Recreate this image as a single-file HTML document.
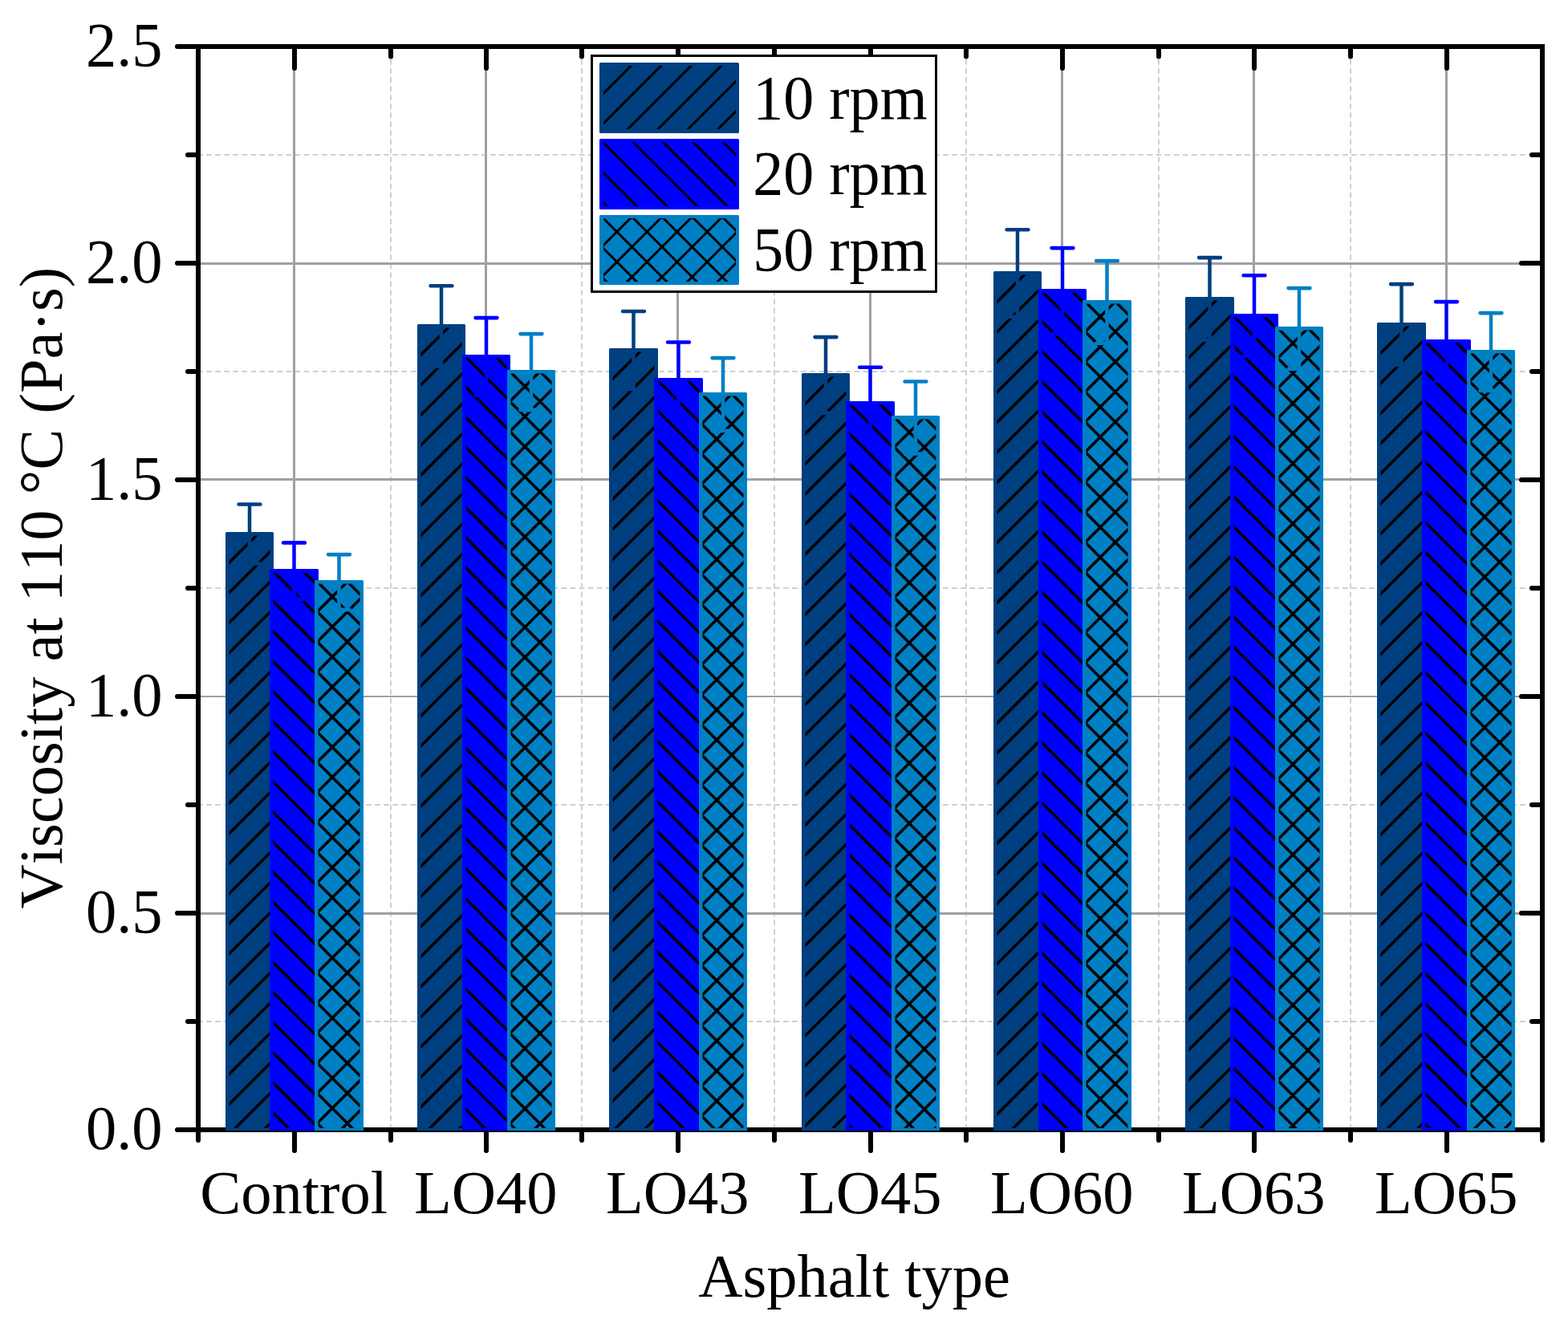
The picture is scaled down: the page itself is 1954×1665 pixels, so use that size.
<!DOCTYPE html>
<html lang="en"><head><meta charset="utf-8"><title>Viscosity at 110 °C by asphalt type</title>
<style>html,body{margin:0;padding:0;background:#fff}body{width:1954px;height:1665px;overflow:hidden}svg{display:block}text{font-family:"Liberation Serif",serif;font-size:76.5px;fill:#000;font-kerning:none;font-variant-ligatures:none}</style></head><body>
<svg width="1954" height="1665" viewBox="0 0 1954 1665">
<rect width="1954" height="1665" fill="#fff"/>
<g stroke="#D0D0D0" stroke-width="2" stroke-dasharray="6.8 4.26" fill="none">
<path d="M246.0 1273 H1922"/>
<path d="M246.0 1003 H1922"/>
<path d="M246.0 733 H1922"/>
<path d="M246.0 463 H1922"/>
<path d="M246.0 193 H1922"/>
<path d="M487 62.9 V1408"/>
<path d="M725 62.9 V1408"/>
<path d="M965 62.9 V1408"/>
<path d="M1204 62.9 V1408"/>
<path d="M1444 62.9 V1408"/>
<path d="M1683 62.9 V1408"/>
</g>
<g stroke="#A0A0A0" stroke-width="3" fill="none">
<path d="M247 328.5 H1922" stroke-width="3"/>
<path d="M247 597.5 H1922" stroke-width="3"/>
<path d="M247 868 H1922" stroke-width="2"/>
<path d="M247 1138.5 H1922" stroke-width="3"/>
<path d="M366.5 58 V1408"/>
<path d="M605.5 58 V1408"/>
<path d="M844.5 58 V1408"/>
<path d="M1084.5 58 V1408"/>
<path d="M1323.5 58 V1408"/>
<path d="M1562.5 58 V1408"/>
<path d="M1802.5 58 V1408"/>
</g>
<g stroke="#000" stroke-width="6" fill="none" stroke-linecap="round">
<rect x="247" y="58" width="1675" height="1350" stroke-linejoin="miter" stroke-linecap="butt"/>
<path d="M367 1408 V1434M367 58 V85M606 1408 V1434M606 58 V85M845 1408 V1434M845 58 V85M1085 1408 V1434M1085 58 V85M1324 1408 V1434M1324 58 V85M1563 1408 V1434M1563 58 V85M1803 1408 V1434M1803 58 V85M487 1408 V1421M487 58 V70.5M725 1408 V1421M725 58 V70.5M965 1408 V1421M965 58 V70.5M1204 1408 V1421M1204 58 V70.5M1444 1408 V1421M1444 58 V70.5M1683 1408 V1421M1683 58 V70.5M247 1408 V1421M247 58 V70.5M1922 1408 V1421M1922 58 V70.5M247 1408 H221M1922 1408 H1896M247 1138 H221M1922 1138 H1896M247 868 H221M1922 868 H1896M247 598 H221M1922 598 H1896M247 328 H221M1922 328 H1896M247 58 H221M1922 58 H1896M247 1273 H234M1922 1273 H1909M247 1003 H234M1922 1003 H1909M247 733 H234M1922 733 H1909M247 463 H234M1922 463 H1909M247 193 H234M1922 193 H1909"/>
</g>
<path d="M281 1409.0 V664.5 Q281 663 282.5 663 H339.5 Q341 663 341 664.5 V1409.0 Z" fill="#003F80"/>
<svg x="285.5" y="667.5" width="51.0" height="738.5" viewBox="0 0 51.0 738.5">
<path d="M6.30 -10.00 L-752.20 748.50M43.80 -10.00 L-714.70 748.50M81.30 -10.00 L-677.20 748.50M118.80 -10.00 L-639.70 748.50M156.30 -10.00 L-602.20 748.50M193.80 -10.00 L-564.70 748.50M231.30 -10.00 L-527.20 748.50M268.80 -10.00 L-489.70 748.50M306.30 -10.00 L-452.20 748.50M343.80 -10.00 L-414.70 748.50M381.30 -10.00 L-377.20 748.50M418.80 -10.00 L-339.70 748.50M456.30 -10.00 L-302.20 748.50M493.80 -10.00 L-264.70 748.50M531.30 -10.00 L-227.20 748.50M568.80 -10.00 L-189.70 748.50M606.30 -10.00 L-152.20 748.50M643.80 -10.00 L-114.70 748.50M681.30 -10.00 L-77.20 748.50M718.80 -10.00 L-39.70 748.50M756.30 -10.00 L-2.20 748.50M793.80 -10.00 L35.30 748.50" stroke="#000" stroke-width="3.5" fill="none"/>
</svg>
<path d="M311.0 628.5 V702.5" stroke="#003F80" stroke-width="4.5" fill="none"/>
<path d="M297.6 628.5 H324.4 M297.6 702.5 H324.4" stroke="#003F80" stroke-width="4.6" stroke-linecap="round" fill="none"/>
<path d="M336 1409.0 V710.5 Q336 709 337.5 709 H395.5 Q397 709 397 710.5 V1409.0 Z" fill="#0000FF"/>
<svg x="340.5" y="713.5" width="52.0" height="692.5" viewBox="0 0 52.0 692.5">
<path d="M-683.50 -10.00 L29.00 702.50M-646.00 -10.00 L66.50 702.50M-608.50 -10.00 L104.00 702.50M-571.00 -10.00 L141.50 702.50M-533.50 -10.00 L179.00 702.50M-496.00 -10.00 L216.50 702.50M-458.50 -10.00 L254.00 702.50M-421.00 -10.00 L291.50 702.50M-383.50 -10.00 L329.00 702.50M-346.00 -10.00 L366.50 702.50M-308.50 -10.00 L404.00 702.50M-271.00 -10.00 L441.50 702.50M-233.50 -10.00 L479.00 702.50M-196.00 -10.00 L516.50 702.50M-158.50 -10.00 L554.00 702.50M-121.00 -10.00 L591.50 702.50M-83.50 -10.00 L629.00 702.50M-46.00 -10.00 L666.50 702.50M-8.50 -10.00 L704.00 702.50M29.00 -10.00 L741.50 702.50" stroke="#000" stroke-width="3.5" fill="none"/>
</svg>
<path d="M366.5 676.4 V746.6" stroke="#0000FF" stroke-width="4.5" fill="none"/>
<path d="M353.1 676.4 H379.9 M353.1 746.6 H379.9" stroke="#0000FF" stroke-width="4.6" stroke-linecap="round" fill="none"/>
<path d="M392 1409.0 V724.5 Q392 723 393.5 723 H451.5 Q453 723 453 724.5 V1409.0 Z" fill="#0080C4"/>
<svg x="396.5" y="727.5" width="52.0" height="678.5" viewBox="0 0 52.0 678.5">
<path d="M6.30 -10.00 L-692.20 688.50M43.80 -10.00 L-654.70 688.50M81.30 -10.00 L-617.20 688.50M118.80 -10.00 L-579.70 688.50M156.30 -10.00 L-542.20 688.50M193.80 -10.00 L-504.70 688.50M231.30 -10.00 L-467.20 688.50M268.80 -10.00 L-429.70 688.50M306.30 -10.00 L-392.20 688.50M343.80 -10.00 L-354.70 688.50M381.30 -10.00 L-317.20 688.50M418.80 -10.00 L-279.70 688.50M456.30 -10.00 L-242.20 688.50M493.80 -10.00 L-204.70 688.50M531.30 -10.00 L-167.20 688.50M568.80 -10.00 L-129.70 688.50M606.30 -10.00 L-92.20 688.50M643.80 -10.00 L-54.70 688.50M681.30 -10.00 L-17.20 688.50M718.80 -10.00 L20.30 688.50M-683.50 -10.00 L15.00 688.50M-646.00 -10.00 L52.50 688.50M-608.50 -10.00 L90.00 688.50M-571.00 -10.00 L127.50 688.50M-533.50 -10.00 L165.00 688.50M-496.00 -10.00 L202.50 688.50M-458.50 -10.00 L240.00 688.50M-421.00 -10.00 L277.50 688.50M-383.50 -10.00 L315.00 688.50M-346.00 -10.00 L352.50 688.50M-308.50 -10.00 L390.00 688.50M-271.00 -10.00 L427.50 688.50M-233.50 -10.00 L465.00 688.50M-196.00 -10.00 L502.50 688.50M-158.50 -10.00 L540.00 688.50M-121.00 -10.00 L577.50 688.50M-83.50 -10.00 L615.00 688.50M-46.00 -10.00 L652.50 688.50M-8.50 -10.00 L690.00 688.50M29.00 -10.00 L727.50 688.50" stroke="#000" stroke-width="3.5" fill="none"/>
</svg>
<path d="M422.5 691.1 V759.9" stroke="#0080C4" stroke-width="4.5" fill="none"/>
<path d="M409.1 691.1 H435.9 M409.1 759.9 H435.9" stroke="#0080C4" stroke-width="4.6" stroke-linecap="round" fill="none"/>
<path d="M520 1409.0 V405.5 Q520 404 521.5 404 H578.5 Q580 404 580 405.5 V1409.0 Z" fill="#003F80"/>
<svg x="524.5" y="408.5" width="51.0" height="997.5" viewBox="0 0 51.0 997.5">
<path d="M6.30 -10.00 L-1011.20 1007.50M43.80 -10.00 L-973.70 1007.50M81.30 -10.00 L-936.20 1007.50M118.80 -10.00 L-898.70 1007.50M156.30 -10.00 L-861.20 1007.50M193.80 -10.00 L-823.70 1007.50M231.30 -10.00 L-786.20 1007.50M268.80 -10.00 L-748.70 1007.50M306.30 -10.00 L-711.20 1007.50M343.80 -10.00 L-673.70 1007.50M381.30 -10.00 L-636.20 1007.50M418.80 -10.00 L-598.70 1007.50M456.30 -10.00 L-561.20 1007.50M493.80 -10.00 L-523.70 1007.50M531.30 -10.00 L-486.20 1007.50M568.80 -10.00 L-448.70 1007.50M606.30 -10.00 L-411.20 1007.50M643.80 -10.00 L-373.70 1007.50M681.30 -10.00 L-336.20 1007.50M718.80 -10.00 L-298.70 1007.50M756.30 -10.00 L-261.20 1007.50M793.80 -10.00 L-223.70 1007.50M831.30 -10.00 L-186.20 1007.50M868.80 -10.00 L-148.70 1007.50M906.30 -10.00 L-111.20 1007.50M943.80 -10.00 L-73.70 1007.50M981.30 -10.00 L-36.20 1007.50M1018.80 -10.00 L1.30 1007.50M1056.30 -10.00 L38.80 1007.50" stroke="#000" stroke-width="3.5" fill="none"/>
</svg>
<path d="M550.0 356.2 V456.8" stroke="#003F80" stroke-width="4.5" fill="none"/>
<path d="M536.6 356.2 H563.4 M536.6 456.8 H563.4" stroke="#003F80" stroke-width="4.6" stroke-linecap="round" fill="none"/>
<path d="M576 1409.0 V443.5 Q576 442 577.5 442 H634.5 Q636 442 636 443.5 V1409.0 Z" fill="#0000FF"/>
<svg x="580.5" y="446.5" width="51.0" height="959.5" viewBox="0 0 51.0 959.5">
<path d="M-946.00 -10.00 L33.50 969.50M-908.50 -10.00 L71.00 969.50M-871.00 -10.00 L108.50 969.50M-833.50 -10.00 L146.00 969.50M-796.00 -10.00 L183.50 969.50M-758.50 -10.00 L221.00 969.50M-721.00 -10.00 L258.50 969.50M-683.50 -10.00 L296.00 969.50M-646.00 -10.00 L333.50 969.50M-608.50 -10.00 L371.00 969.50M-571.00 -10.00 L408.50 969.50M-533.50 -10.00 L446.00 969.50M-496.00 -10.00 L483.50 969.50M-458.50 -10.00 L521.00 969.50M-421.00 -10.00 L558.50 969.50M-383.50 -10.00 L596.00 969.50M-346.00 -10.00 L633.50 969.50M-308.50 -10.00 L671.00 969.50M-271.00 -10.00 L708.50 969.50M-233.50 -10.00 L746.00 969.50M-196.00 -10.00 L783.50 969.50M-158.50 -10.00 L821.00 969.50M-121.00 -10.00 L858.50 969.50M-83.50 -10.00 L896.00 969.50M-46.00 -10.00 L933.50 969.50M-8.50 -10.00 L971.00 969.50M29.00 -10.00 L1008.50 969.50" stroke="#000" stroke-width="3.5" fill="none"/>
</svg>
<path d="M606.0 396.1 V492.9" stroke="#0000FF" stroke-width="4.5" fill="none"/>
<path d="M592.6 396.1 H619.4 M592.6 492.9 H619.4" stroke="#0000FF" stroke-width="4.6" stroke-linecap="round" fill="none"/>
<path d="M632 1409.0 V462.5 Q632 461 633.5 461 H690.5 Q692 461 692 462.5 V1409.0 Z" fill="#0080C4"/>
<svg x="636.5" y="465.5" width="51.0" height="940.5" viewBox="0 0 51.0 940.5">
<path d="M6.30 -10.00 L-954.20 950.50M43.80 -10.00 L-916.70 950.50M81.30 -10.00 L-879.20 950.50M118.80 -10.00 L-841.70 950.50M156.30 -10.00 L-804.20 950.50M193.80 -10.00 L-766.70 950.50M231.30 -10.00 L-729.20 950.50M268.80 -10.00 L-691.70 950.50M306.30 -10.00 L-654.20 950.50M343.80 -10.00 L-616.70 950.50M381.30 -10.00 L-579.20 950.50M418.80 -10.00 L-541.70 950.50M456.30 -10.00 L-504.20 950.50M493.80 -10.00 L-466.70 950.50M531.30 -10.00 L-429.20 950.50M568.80 -10.00 L-391.70 950.50M606.30 -10.00 L-354.20 950.50M643.80 -10.00 L-316.70 950.50M681.30 -10.00 L-279.20 950.50M718.80 -10.00 L-241.70 950.50M756.30 -10.00 L-204.20 950.50M793.80 -10.00 L-166.70 950.50M831.30 -10.00 L-129.20 950.50M868.80 -10.00 L-91.70 950.50M906.30 -10.00 L-54.20 950.50M943.80 -10.00 L-16.70 950.50M981.30 -10.00 L20.80 950.50M-946.00 -10.00 L14.50 950.50M-908.50 -10.00 L52.00 950.50M-871.00 -10.00 L89.50 950.50M-833.50 -10.00 L127.00 950.50M-796.00 -10.00 L164.50 950.50M-758.50 -10.00 L202.00 950.50M-721.00 -10.00 L239.50 950.50M-683.50 -10.00 L277.00 950.50M-646.00 -10.00 L314.50 950.50M-608.50 -10.00 L352.00 950.50M-571.00 -10.00 L389.50 950.50M-533.50 -10.00 L427.00 950.50M-496.00 -10.00 L464.50 950.50M-458.50 -10.00 L502.00 950.50M-421.00 -10.00 L539.50 950.50M-383.50 -10.00 L577.00 950.50M-346.00 -10.00 L614.50 950.50M-308.50 -10.00 L652.00 950.50M-271.00 -10.00 L689.50 950.50M-233.50 -10.00 L727.00 950.50M-196.00 -10.00 L764.50 950.50M-158.50 -10.00 L802.00 950.50M-121.00 -10.00 L839.50 950.50M-83.50 -10.00 L877.00 950.50M-46.00 -10.00 L914.50 950.50M-8.50 -10.00 L952.00 950.50M29.00 -10.00 L989.50 950.50" stroke="#000" stroke-width="3.5" fill="none"/>
</svg>
<path d="M662.0 416.1 V510.9" stroke="#0080C4" stroke-width="4.5" fill="none"/>
<path d="M648.6 416.1 H675.4 M648.6 510.9 H675.4" stroke="#0080C4" stroke-width="4.6" stroke-linecap="round" fill="none"/>
<path d="M759 1409.0 V435.5 Q759 434 760.5 434 H818.5 Q820 434 820 435.5 V1409.0 Z" fill="#003F80"/>
<svg x="763.5" y="438.5" width="52.0" height="967.5" viewBox="0 0 52.0 967.5">
<path d="M6.30 -10.00 L-981.20 977.50M43.80 -10.00 L-943.70 977.50M81.30 -10.00 L-906.20 977.50M118.80 -10.00 L-868.70 977.50M156.30 -10.00 L-831.20 977.50M193.80 -10.00 L-793.70 977.50M231.30 -10.00 L-756.20 977.50M268.80 -10.00 L-718.70 977.50M306.30 -10.00 L-681.20 977.50M343.80 -10.00 L-643.70 977.50M381.30 -10.00 L-606.20 977.50M418.80 -10.00 L-568.70 977.50M456.30 -10.00 L-531.20 977.50M493.80 -10.00 L-493.70 977.50M531.30 -10.00 L-456.20 977.50M568.80 -10.00 L-418.70 977.50M606.30 -10.00 L-381.20 977.50M643.80 -10.00 L-343.70 977.50M681.30 -10.00 L-306.20 977.50M718.80 -10.00 L-268.70 977.50M756.30 -10.00 L-231.20 977.50M793.80 -10.00 L-193.70 977.50M831.30 -10.00 L-156.20 977.50M868.80 -10.00 L-118.70 977.50M906.30 -10.00 L-81.20 977.50M943.80 -10.00 L-43.70 977.50M981.30 -10.00 L-6.20 977.50M1018.80 -10.00 L31.30 977.50" stroke="#000" stroke-width="3.5" fill="none"/>
</svg>
<path d="M789.5 388.0 V485.0" stroke="#003F80" stroke-width="4.5" fill="none"/>
<path d="M776.1 388.0 H802.9 M776.1 485.0 H802.9" stroke="#003F80" stroke-width="4.6" stroke-linecap="round" fill="none"/>
<path d="M815 1409.0 V472.5 Q815 471 816.5 471 H874.5 Q876 471 876 472.5 V1409.0 Z" fill="#0000FF"/>
<svg x="819.5" y="475.5" width="52.0" height="930.5" viewBox="0 0 52.0 930.5">
<path d="M-946.00 -10.00 L4.50 940.50M-908.50 -10.00 L42.00 940.50M-871.00 -10.00 L79.50 940.50M-833.50 -10.00 L117.00 940.50M-796.00 -10.00 L154.50 940.50M-758.50 -10.00 L192.00 940.50M-721.00 -10.00 L229.50 940.50M-683.50 -10.00 L267.00 940.50M-646.00 -10.00 L304.50 940.50M-608.50 -10.00 L342.00 940.50M-571.00 -10.00 L379.50 940.50M-533.50 -10.00 L417.00 940.50M-496.00 -10.00 L454.50 940.50M-458.50 -10.00 L492.00 940.50M-421.00 -10.00 L529.50 940.50M-383.50 -10.00 L567.00 940.50M-346.00 -10.00 L604.50 940.50M-308.50 -10.00 L642.00 940.50M-271.00 -10.00 L679.50 940.50M-233.50 -10.00 L717.00 940.50M-196.00 -10.00 L754.50 940.50M-158.50 -10.00 L792.00 940.50M-121.00 -10.00 L829.50 940.50M-83.50 -10.00 L867.00 940.50M-46.00 -10.00 L904.50 940.50M-8.50 -10.00 L942.00 940.50M29.00 -10.00 L979.50 940.50" stroke="#000" stroke-width="3.5" fill="none"/>
</svg>
<path d="M845.5 426.5 V520.5" stroke="#0000FF" stroke-width="4.5" fill="none"/>
<path d="M832.1 426.5 H858.9 M832.1 520.5 H858.9" stroke="#0000FF" stroke-width="4.6" stroke-linecap="round" fill="none"/>
<path d="M871 1409.0 V490.5 Q871 489 872.5 489 H929.5 Q931 489 931 490.5 V1409.0 Z" fill="#0080C4"/>
<svg x="875.5" y="493.5" width="51.0" height="912.5" viewBox="0 0 51.0 912.5">
<path d="M6.30 -10.00 L-926.20 922.50M43.80 -10.00 L-888.70 922.50M81.30 -10.00 L-851.20 922.50M118.80 -10.00 L-813.70 922.50M156.30 -10.00 L-776.20 922.50M193.80 -10.00 L-738.70 922.50M231.30 -10.00 L-701.20 922.50M268.80 -10.00 L-663.70 922.50M306.30 -10.00 L-626.20 922.50M343.80 -10.00 L-588.70 922.50M381.30 -10.00 L-551.20 922.50M418.80 -10.00 L-513.70 922.50M456.30 -10.00 L-476.20 922.50M493.80 -10.00 L-438.70 922.50M531.30 -10.00 L-401.20 922.50M568.80 -10.00 L-363.70 922.50M606.30 -10.00 L-326.20 922.50M643.80 -10.00 L-288.70 922.50M681.30 -10.00 L-251.20 922.50M718.80 -10.00 L-213.70 922.50M756.30 -10.00 L-176.20 922.50M793.80 -10.00 L-138.70 922.50M831.30 -10.00 L-101.20 922.50M868.80 -10.00 L-63.70 922.50M906.30 -10.00 L-26.20 922.50M943.80 -10.00 L11.30 922.50M981.30 -10.00 L48.80 922.50M-908.50 -10.00 L24.00 922.50M-871.00 -10.00 L61.50 922.50M-833.50 -10.00 L99.00 922.50M-796.00 -10.00 L136.50 922.50M-758.50 -10.00 L174.00 922.50M-721.00 -10.00 L211.50 922.50M-683.50 -10.00 L249.00 922.50M-646.00 -10.00 L286.50 922.50M-608.50 -10.00 L324.00 922.50M-571.00 -10.00 L361.50 922.50M-533.50 -10.00 L399.00 922.50M-496.00 -10.00 L436.50 922.50M-458.50 -10.00 L474.00 922.50M-421.00 -10.00 L511.50 922.50M-383.50 -10.00 L549.00 922.50M-346.00 -10.00 L586.50 922.50M-308.50 -10.00 L624.00 922.50M-271.00 -10.00 L661.50 922.50M-233.50 -10.00 L699.00 922.50M-196.00 -10.00 L736.50 922.50M-158.50 -10.00 L774.00 922.50M-121.00 -10.00 L811.50 922.50M-83.50 -10.00 L849.00 922.50M-46.00 -10.00 L886.50 922.50M-8.50 -10.00 L924.00 922.50M29.00 -10.00 L961.50 922.50" stroke="#000" stroke-width="3.5" fill="none"/>
</svg>
<path d="M901.0 446.1 V536.9" stroke="#0080C4" stroke-width="4.5" fill="none"/>
<path d="M887.6 446.1 H914.4 M887.6 536.9 H914.4" stroke="#0080C4" stroke-width="4.6" stroke-linecap="round" fill="none"/>
<path d="M999 1409.0 V466.5 Q999 465 1000.5 465 H1057.5 Q1059 465 1059 466.5 V1409.0 Z" fill="#003F80"/>
<svg x="1003.5" y="469.5" width="51.0" height="936.5" viewBox="0 0 51.0 936.5">
<path d="M6.30 -10.00 L-950.20 946.50M43.80 -10.00 L-912.70 946.50M81.30 -10.00 L-875.20 946.50M118.80 -10.00 L-837.70 946.50M156.30 -10.00 L-800.20 946.50M193.80 -10.00 L-762.70 946.50M231.30 -10.00 L-725.20 946.50M268.80 -10.00 L-687.70 946.50M306.30 -10.00 L-650.20 946.50M343.80 -10.00 L-612.70 946.50M381.30 -10.00 L-575.20 946.50M418.80 -10.00 L-537.70 946.50M456.30 -10.00 L-500.20 946.50M493.80 -10.00 L-462.70 946.50M531.30 -10.00 L-425.20 946.50M568.80 -10.00 L-387.70 946.50M606.30 -10.00 L-350.20 946.50M643.80 -10.00 L-312.70 946.50M681.30 -10.00 L-275.20 946.50M718.80 -10.00 L-237.70 946.50M756.30 -10.00 L-200.20 946.50M793.80 -10.00 L-162.70 946.50M831.30 -10.00 L-125.20 946.50M868.80 -10.00 L-87.70 946.50M906.30 -10.00 L-50.20 946.50M943.80 -10.00 L-12.70 946.50M981.30 -10.00 L24.80 946.50" stroke="#000" stroke-width="3.5" fill="none"/>
</svg>
<path d="M1029.0 420.1 V514.9" stroke="#003F80" stroke-width="4.5" fill="none"/>
<path d="M1015.6 420.1 H1042.4 M1015.6 514.9 H1042.4" stroke="#003F80" stroke-width="4.6" stroke-linecap="round" fill="none"/>
<path d="M1054 1409.0 V501.5 Q1054 500 1055.5 500 H1113.5 Q1115 500 1115 501.5 V1409.0 Z" fill="#0000FF"/>
<svg x="1058.5" y="504.5" width="52.0" height="901.5" viewBox="0 0 52.0 901.5">
<path d="M-908.50 -10.00 L13.00 911.50M-871.00 -10.00 L50.50 911.50M-833.50 -10.00 L88.00 911.50M-796.00 -10.00 L125.50 911.50M-758.50 -10.00 L163.00 911.50M-721.00 -10.00 L200.50 911.50M-683.50 -10.00 L238.00 911.50M-646.00 -10.00 L275.50 911.50M-608.50 -10.00 L313.00 911.50M-571.00 -10.00 L350.50 911.50M-533.50 -10.00 L388.00 911.50M-496.00 -10.00 L425.50 911.50M-458.50 -10.00 L463.00 911.50M-421.00 -10.00 L500.50 911.50M-383.50 -10.00 L538.00 911.50M-346.00 -10.00 L575.50 911.50M-308.50 -10.00 L613.00 911.50M-271.00 -10.00 L650.50 911.50M-233.50 -10.00 L688.00 911.50M-196.00 -10.00 L725.50 911.50M-158.50 -10.00 L763.00 911.50M-121.00 -10.00 L800.50 911.50M-83.50 -10.00 L838.00 911.50M-46.00 -10.00 L875.50 911.50M-8.50 -10.00 L913.00 911.50M29.00 -10.00 L950.50 911.50" stroke="#000" stroke-width="3.5" fill="none"/>
</svg>
<path d="M1084.5 457.7 V547.3" stroke="#0000FF" stroke-width="4.5" fill="none"/>
<path d="M1071.1 457.7 H1097.9 M1071.1 547.3 H1097.9" stroke="#0000FF" stroke-width="4.6" stroke-linecap="round" fill="none"/>
<path d="M1111 1409.0 V519.5 Q1111 518 1112.5 518 H1169.5 Q1171 518 1171 519.5 V1409.0 Z" fill="#0080C4"/>
<svg x="1115.5" y="522.5" width="51.0" height="883.5" viewBox="0 0 51.0 883.5">
<path d="M6.30 -10.00 L-897.20 893.50M43.80 -10.00 L-859.70 893.50M81.30 -10.00 L-822.20 893.50M118.80 -10.00 L-784.70 893.50M156.30 -10.00 L-747.20 893.50M193.80 -10.00 L-709.70 893.50M231.30 -10.00 L-672.20 893.50M268.80 -10.00 L-634.70 893.50M306.30 -10.00 L-597.20 893.50M343.80 -10.00 L-559.70 893.50M381.30 -10.00 L-522.20 893.50M418.80 -10.00 L-484.70 893.50M456.30 -10.00 L-447.20 893.50M493.80 -10.00 L-409.70 893.50M531.30 -10.00 L-372.20 893.50M568.80 -10.00 L-334.70 893.50M606.30 -10.00 L-297.20 893.50M643.80 -10.00 L-259.70 893.50M681.30 -10.00 L-222.20 893.50M718.80 -10.00 L-184.70 893.50M756.30 -10.00 L-147.20 893.50M793.80 -10.00 L-109.70 893.50M831.30 -10.00 L-72.20 893.50M868.80 -10.00 L-34.70 893.50M906.30 -10.00 L2.80 893.50M943.80 -10.00 L40.30 893.50M-871.00 -10.00 L32.50 893.50M-833.50 -10.00 L70.00 893.50M-796.00 -10.00 L107.50 893.50M-758.50 -10.00 L145.00 893.50M-721.00 -10.00 L182.50 893.50M-683.50 -10.00 L220.00 893.50M-646.00 -10.00 L257.50 893.50M-608.50 -10.00 L295.00 893.50M-571.00 -10.00 L332.50 893.50M-533.50 -10.00 L370.00 893.50M-496.00 -10.00 L407.50 893.50M-458.50 -10.00 L445.00 893.50M-421.00 -10.00 L482.50 893.50M-383.50 -10.00 L520.00 893.50M-346.00 -10.00 L557.50 893.50M-308.50 -10.00 L595.00 893.50M-271.00 -10.00 L632.50 893.50M-233.50 -10.00 L670.00 893.50M-196.00 -10.00 L707.50 893.50M-158.50 -10.00 L745.00 893.50M-121.00 -10.00 L782.50 893.50M-83.50 -10.00 L820.00 893.50M-46.00 -10.00 L857.50 893.50M-8.50 -10.00 L895.00 893.50M29.00 -10.00 L932.50 893.50" stroke="#000" stroke-width="3.5" fill="none"/>
</svg>
<path d="M1141.0 475.5 V565.5" stroke="#0080C4" stroke-width="4.5" fill="none"/>
<path d="M1127.6 475.5 H1154.4 M1127.6 565.5 H1154.4" stroke="#0080C4" stroke-width="4.6" stroke-linecap="round" fill="none"/>
<path d="M1238 1409.0 V339.5 Q1238 338 1239.5 338 H1296.5 Q1298 338 1298 339.5 V1409.0 Z" fill="#003F80"/>
<svg x="1242.5" y="342.5" width="51.0" height="1063.5" viewBox="0 0 51.0 1063.5">
<path d="M6.30 -10.00 L-1077.20 1073.50M43.80 -10.00 L-1039.70 1073.50M81.30 -10.00 L-1002.20 1073.50M118.80 -10.00 L-964.70 1073.50M156.30 -10.00 L-927.20 1073.50M193.80 -10.00 L-889.70 1073.50M231.30 -10.00 L-852.20 1073.50M268.80 -10.00 L-814.70 1073.50M306.30 -10.00 L-777.20 1073.50M343.80 -10.00 L-739.70 1073.50M381.30 -10.00 L-702.20 1073.50M418.80 -10.00 L-664.70 1073.50M456.30 -10.00 L-627.20 1073.50M493.80 -10.00 L-589.70 1073.50M531.30 -10.00 L-552.20 1073.50M568.80 -10.00 L-514.70 1073.50M606.30 -10.00 L-477.20 1073.50M643.80 -10.00 L-439.70 1073.50M681.30 -10.00 L-402.20 1073.50M718.80 -10.00 L-364.70 1073.50M756.30 -10.00 L-327.20 1073.50M793.80 -10.00 L-289.70 1073.50M831.30 -10.00 L-252.20 1073.50M868.80 -10.00 L-214.70 1073.50M906.30 -10.00 L-177.20 1073.50M943.80 -10.00 L-139.70 1073.50M981.30 -10.00 L-102.20 1073.50M1018.80 -10.00 L-64.70 1073.50M1056.30 -10.00 L-27.20 1073.50M1093.80 -10.00 L10.30 1073.50M1131.30 -10.00 L47.80 1073.50" stroke="#000" stroke-width="3.5" fill="none"/>
</svg>
<path d="M1268.0 286.2 V394.8" stroke="#003F80" stroke-width="4.5" fill="none"/>
<path d="M1254.6 286.2 H1281.4 M1254.6 394.8 H1281.4" stroke="#003F80" stroke-width="4.6" stroke-linecap="round" fill="none"/>
<path d="M1294 1409.0 V361.5 Q1294 360 1295.5 360 H1352.5 Q1354 360 1354 361.5 V1409.0 Z" fill="#0000FF"/>
<svg x="1298.5" y="364.5" width="51.0" height="1041.5" viewBox="0 0 51.0 1041.5">
<path d="M-1058.50 -10.00 L3.00 1051.50M-1021.00 -10.00 L40.50 1051.50M-983.50 -10.00 L78.00 1051.50M-946.00 -10.00 L115.50 1051.50M-908.50 -10.00 L153.00 1051.50M-871.00 -10.00 L190.50 1051.50M-833.50 -10.00 L228.00 1051.50M-796.00 -10.00 L265.50 1051.50M-758.50 -10.00 L303.00 1051.50M-721.00 -10.00 L340.50 1051.50M-683.50 -10.00 L378.00 1051.50M-646.00 -10.00 L415.50 1051.50M-608.50 -10.00 L453.00 1051.50M-571.00 -10.00 L490.50 1051.50M-533.50 -10.00 L528.00 1051.50M-496.00 -10.00 L565.50 1051.50M-458.50 -10.00 L603.00 1051.50M-421.00 -10.00 L640.50 1051.50M-383.50 -10.00 L678.00 1051.50M-346.00 -10.00 L715.50 1051.50M-308.50 -10.00 L753.00 1051.50M-271.00 -10.00 L790.50 1051.50M-233.50 -10.00 L828.00 1051.50M-196.00 -10.00 L865.50 1051.50M-158.50 -10.00 L903.00 1051.50M-121.00 -10.00 L940.50 1051.50M-83.50 -10.00 L978.00 1051.50M-46.00 -10.00 L1015.50 1051.50M-8.50 -10.00 L1053.00 1051.50M29.00 -10.00 L1090.50 1051.50" stroke="#000" stroke-width="3.5" fill="none"/>
</svg>
<path d="M1324.0 309.1 V415.9" stroke="#0000FF" stroke-width="4.5" fill="none"/>
<path d="M1310.6 309.1 H1337.4 M1310.6 415.9 H1337.4" stroke="#0000FF" stroke-width="4.6" stroke-linecap="round" fill="none"/>
<path d="M1349 1409.0 V375.5 Q1349 374 1350.5 374 H1408.5 Q1410 374 1410 375.5 V1409.0 Z" fill="#0080C4"/>
<svg x="1353.5" y="378.5" width="52.0" height="1027.5" viewBox="0 0 52.0 1027.5">
<path d="M6.30 -10.00 L-1041.20 1037.50M43.80 -10.00 L-1003.70 1037.50M81.30 -10.00 L-966.20 1037.50M118.80 -10.00 L-928.70 1037.50M156.30 -10.00 L-891.20 1037.50M193.80 -10.00 L-853.70 1037.50M231.30 -10.00 L-816.20 1037.50M268.80 -10.00 L-778.70 1037.50M306.30 -10.00 L-741.20 1037.50M343.80 -10.00 L-703.70 1037.50M381.30 -10.00 L-666.20 1037.50M418.80 -10.00 L-628.70 1037.50M456.30 -10.00 L-591.20 1037.50M493.80 -10.00 L-553.70 1037.50M531.30 -10.00 L-516.20 1037.50M568.80 -10.00 L-478.70 1037.50M606.30 -10.00 L-441.20 1037.50M643.80 -10.00 L-403.70 1037.50M681.30 -10.00 L-366.20 1037.50M718.80 -10.00 L-328.70 1037.50M756.30 -10.00 L-291.20 1037.50M793.80 -10.00 L-253.70 1037.50M831.30 -10.00 L-216.20 1037.50M868.80 -10.00 L-178.70 1037.50M906.30 -10.00 L-141.20 1037.50M943.80 -10.00 L-103.70 1037.50M981.30 -10.00 L-66.20 1037.50M1018.80 -10.00 L-28.70 1037.50M1056.30 -10.00 L8.80 1037.50M1093.80 -10.00 L46.30 1037.50M-1021.00 -10.00 L26.50 1037.50M-983.50 -10.00 L64.00 1037.50M-946.00 -10.00 L101.50 1037.50M-908.50 -10.00 L139.00 1037.50M-871.00 -10.00 L176.50 1037.50M-833.50 -10.00 L214.00 1037.50M-796.00 -10.00 L251.50 1037.50M-758.50 -10.00 L289.00 1037.50M-721.00 -10.00 L326.50 1037.50M-683.50 -10.00 L364.00 1037.50M-646.00 -10.00 L401.50 1037.50M-608.50 -10.00 L439.00 1037.50M-571.00 -10.00 L476.50 1037.50M-533.50 -10.00 L514.00 1037.50M-496.00 -10.00 L551.50 1037.50M-458.50 -10.00 L589.00 1037.50M-421.00 -10.00 L626.50 1037.50M-383.50 -10.00 L664.00 1037.50M-346.00 -10.00 L701.50 1037.50M-308.50 -10.00 L739.00 1037.50M-271.00 -10.00 L776.50 1037.50M-233.50 -10.00 L814.00 1037.50M-196.00 -10.00 L851.50 1037.50M-158.50 -10.00 L889.00 1037.50M-121.00 -10.00 L926.50 1037.50M-83.50 -10.00 L964.00 1037.50M-46.00 -10.00 L1001.50 1037.50M-8.50 -10.00 L1039.00 1037.50M29.00 -10.00 L1076.50 1037.50" stroke="#000" stroke-width="3.5" fill="none"/>
</svg>
<path d="M1379.5 325.1 V427.9" stroke="#0080C4" stroke-width="4.5" fill="none"/>
<path d="M1366.1 325.1 H1392.9 M1366.1 427.9 H1392.9" stroke="#0080C4" stroke-width="4.6" stroke-linecap="round" fill="none"/>
<path d="M1477 1409.0 V371.5 Q1477 370 1478.5 370 H1536.5 Q1538 370 1538 371.5 V1409.0 Z" fill="#003F80"/>
<svg x="1481.5" y="374.5" width="52.0" height="1031.5" viewBox="0 0 52.0 1031.5">
<path d="M6.30 -10.00 L-1045.20 1041.50M43.80 -10.00 L-1007.70 1041.50M81.30 -10.00 L-970.20 1041.50M118.80 -10.00 L-932.70 1041.50M156.30 -10.00 L-895.20 1041.50M193.80 -10.00 L-857.70 1041.50M231.30 -10.00 L-820.20 1041.50M268.80 -10.00 L-782.70 1041.50M306.30 -10.00 L-745.20 1041.50M343.80 -10.00 L-707.70 1041.50M381.30 -10.00 L-670.20 1041.50M418.80 -10.00 L-632.70 1041.50M456.30 -10.00 L-595.20 1041.50M493.80 -10.00 L-557.70 1041.50M531.30 -10.00 L-520.20 1041.50M568.80 -10.00 L-482.70 1041.50M606.30 -10.00 L-445.20 1041.50M643.80 -10.00 L-407.70 1041.50M681.30 -10.00 L-370.20 1041.50M718.80 -10.00 L-332.70 1041.50M756.30 -10.00 L-295.20 1041.50M793.80 -10.00 L-257.70 1041.50M831.30 -10.00 L-220.20 1041.50M868.80 -10.00 L-182.70 1041.50M906.30 -10.00 L-145.20 1041.50M943.80 -10.00 L-107.70 1041.50M981.30 -10.00 L-70.20 1041.50M1018.80 -10.00 L-32.70 1041.50M1056.30 -10.00 L4.80 1041.50M1093.80 -10.00 L42.30 1041.50" stroke="#000" stroke-width="3.5" fill="none"/>
</svg>
<path d="M1507.5 321.1 V423.9" stroke="#003F80" stroke-width="4.5" fill="none"/>
<path d="M1494.1 321.1 H1520.9 M1494.1 423.9 H1520.9" stroke="#003F80" stroke-width="4.6" stroke-linecap="round" fill="none"/>
<path d="M1533 1409.0 V392.5 Q1533 391 1534.5 391 H1591.5 Q1593 391 1593 392.5 V1409.0 Z" fill="#0000FF"/>
<svg x="1537.5" y="395.5" width="51.0" height="1010.5" viewBox="0 0 51.0 1010.5">
<path d="M-1021.00 -10.00 L9.50 1020.50M-983.50 -10.00 L47.00 1020.50M-946.00 -10.00 L84.50 1020.50M-908.50 -10.00 L122.00 1020.50M-871.00 -10.00 L159.50 1020.50M-833.50 -10.00 L197.00 1020.50M-796.00 -10.00 L234.50 1020.50M-758.50 -10.00 L272.00 1020.50M-721.00 -10.00 L309.50 1020.50M-683.50 -10.00 L347.00 1020.50M-646.00 -10.00 L384.50 1020.50M-608.50 -10.00 L422.00 1020.50M-571.00 -10.00 L459.50 1020.50M-533.50 -10.00 L497.00 1020.50M-496.00 -10.00 L534.50 1020.50M-458.50 -10.00 L572.00 1020.50M-421.00 -10.00 L609.50 1020.50M-383.50 -10.00 L647.00 1020.50M-346.00 -10.00 L684.50 1020.50M-308.50 -10.00 L722.00 1020.50M-271.00 -10.00 L759.50 1020.50M-233.50 -10.00 L797.00 1020.50M-196.00 -10.00 L834.50 1020.50M-158.50 -10.00 L872.00 1020.50M-121.00 -10.00 L909.50 1020.50M-83.50 -10.00 L947.00 1020.50M-46.00 -10.00 L984.50 1020.50M-8.50 -10.00 L1022.00 1020.50M29.00 -10.00 L1059.50 1020.50" stroke="#000" stroke-width="3.5" fill="none"/>
</svg>
<path d="M1563.0 343.2 V443.8" stroke="#0000FF" stroke-width="4.5" fill="none"/>
<path d="M1549.6 343.2 H1576.4 M1549.6 443.8 H1576.4" stroke="#0000FF" stroke-width="4.6" stroke-linecap="round" fill="none"/>
<path d="M1589 1409.0 V408.5 Q1589 407 1590.5 407 H1647.5 Q1649 407 1649 408.5 V1409.0 Z" fill="#0080C4"/>
<svg x="1593.5" y="411.5" width="51.0" height="994.5" viewBox="0 0 51.0 994.5">
<path d="M6.30 -10.00 L-1008.20 1004.50M43.80 -10.00 L-970.70 1004.50M81.30 -10.00 L-933.20 1004.50M118.80 -10.00 L-895.70 1004.50M156.30 -10.00 L-858.20 1004.50M193.80 -10.00 L-820.70 1004.50M231.30 -10.00 L-783.20 1004.50M268.80 -10.00 L-745.70 1004.50M306.30 -10.00 L-708.20 1004.50M343.80 -10.00 L-670.70 1004.50M381.30 -10.00 L-633.20 1004.50M418.80 -10.00 L-595.70 1004.50M456.30 -10.00 L-558.20 1004.50M493.80 -10.00 L-520.70 1004.50M531.30 -10.00 L-483.20 1004.50M568.80 -10.00 L-445.70 1004.50M606.30 -10.00 L-408.20 1004.50M643.80 -10.00 L-370.70 1004.50M681.30 -10.00 L-333.20 1004.50M718.80 -10.00 L-295.70 1004.50M756.30 -10.00 L-258.20 1004.50M793.80 -10.00 L-220.70 1004.50M831.30 -10.00 L-183.20 1004.50M868.80 -10.00 L-145.70 1004.50M906.30 -10.00 L-108.20 1004.50M943.80 -10.00 L-70.70 1004.50M981.30 -10.00 L-33.20 1004.50M1018.80 -10.00 L4.30 1004.50M1056.30 -10.00 L41.80 1004.50M-983.50 -10.00 L31.00 1004.50M-946.00 -10.00 L68.50 1004.50M-908.50 -10.00 L106.00 1004.50M-871.00 -10.00 L143.50 1004.50M-833.50 -10.00 L181.00 1004.50M-796.00 -10.00 L218.50 1004.50M-758.50 -10.00 L256.00 1004.50M-721.00 -10.00 L293.50 1004.50M-683.50 -10.00 L331.00 1004.50M-646.00 -10.00 L368.50 1004.50M-608.50 -10.00 L406.00 1004.50M-571.00 -10.00 L443.50 1004.50M-533.50 -10.00 L481.00 1004.50M-496.00 -10.00 L518.50 1004.50M-458.50 -10.00 L556.00 1004.50M-421.00 -10.00 L593.50 1004.50M-383.50 -10.00 L631.00 1004.50M-346.00 -10.00 L668.50 1004.50M-308.50 -10.00 L706.00 1004.50M-271.00 -10.00 L743.50 1004.50M-233.50 -10.00 L781.00 1004.50M-196.00 -10.00 L818.50 1004.50M-158.50 -10.00 L856.00 1004.50M-121.00 -10.00 L893.50 1004.50M-83.50 -10.00 L931.00 1004.50M-46.00 -10.00 L968.50 1004.50M-8.50 -10.00 L1006.00 1004.50M29.00 -10.00 L1043.50 1004.50" stroke="#000" stroke-width="3.5" fill="none"/>
</svg>
<path d="M1619.0 359.1 V459.9" stroke="#0080C4" stroke-width="4.5" fill="none"/>
<path d="M1605.6 359.1 H1632.4 M1605.6 459.9 H1632.4" stroke="#0080C4" stroke-width="4.6" stroke-linecap="round" fill="none"/>
<path d="M1716 1409.0 V403.5 Q1716 402 1717.5 402 H1775.5 Q1777 402 1777 403.5 V1409.0 Z" fill="#003F80"/>
<svg x="1720.5" y="406.5" width="52.0" height="999.5" viewBox="0 0 52.0 999.5">
<path d="M6.30 -10.00 L-1013.20 1009.50M43.80 -10.00 L-975.70 1009.50M81.30 -10.00 L-938.20 1009.50M118.80 -10.00 L-900.70 1009.50M156.30 -10.00 L-863.20 1009.50M193.80 -10.00 L-825.70 1009.50M231.30 -10.00 L-788.20 1009.50M268.80 -10.00 L-750.70 1009.50M306.30 -10.00 L-713.20 1009.50M343.80 -10.00 L-675.70 1009.50M381.30 -10.00 L-638.20 1009.50M418.80 -10.00 L-600.70 1009.50M456.30 -10.00 L-563.20 1009.50M493.80 -10.00 L-525.70 1009.50M531.30 -10.00 L-488.20 1009.50M568.80 -10.00 L-450.70 1009.50M606.30 -10.00 L-413.20 1009.50M643.80 -10.00 L-375.70 1009.50M681.30 -10.00 L-338.20 1009.50M718.80 -10.00 L-300.70 1009.50M756.30 -10.00 L-263.20 1009.50M793.80 -10.00 L-225.70 1009.50M831.30 -10.00 L-188.20 1009.50M868.80 -10.00 L-150.70 1009.50M906.30 -10.00 L-113.20 1009.50M943.80 -10.00 L-75.70 1009.50M981.30 -10.00 L-38.20 1009.50M1018.80 -10.00 L-0.70 1009.50M1056.30 -10.00 L36.80 1009.50" stroke="#000" stroke-width="3.5" fill="none"/>
</svg>
<path d="M1746.5 354.1 V454.9" stroke="#003F80" stroke-width="4.5" fill="none"/>
<path d="M1733.1 354.1 H1759.9 M1733.1 454.9 H1759.9" stroke="#003F80" stroke-width="4.6" stroke-linecap="round" fill="none"/>
<path d="M1772 1409.0 V424.5 Q1772 423 1773.5 423 H1831.5 Q1833 423 1833 424.5 V1409.0 Z" fill="#0000FF"/>
<svg x="1776.5" y="427.5" width="52.0" height="978.5" viewBox="0 0 52.0 978.5">
<path d="M-983.50 -10.00 L15.00 988.50M-946.00 -10.00 L52.50 988.50M-908.50 -10.00 L90.00 988.50M-871.00 -10.00 L127.50 988.50M-833.50 -10.00 L165.00 988.50M-796.00 -10.00 L202.50 988.50M-758.50 -10.00 L240.00 988.50M-721.00 -10.00 L277.50 988.50M-683.50 -10.00 L315.00 988.50M-646.00 -10.00 L352.50 988.50M-608.50 -10.00 L390.00 988.50M-571.00 -10.00 L427.50 988.50M-533.50 -10.00 L465.00 988.50M-496.00 -10.00 L502.50 988.50M-458.50 -10.00 L540.00 988.50M-421.00 -10.00 L577.50 988.50M-383.50 -10.00 L615.00 988.50M-346.00 -10.00 L652.50 988.50M-308.50 -10.00 L690.00 988.50M-271.00 -10.00 L727.50 988.50M-233.50 -10.00 L765.00 988.50M-196.00 -10.00 L802.50 988.50M-158.50 -10.00 L840.00 988.50M-121.00 -10.00 L877.50 988.50M-83.50 -10.00 L915.00 988.50M-46.00 -10.00 L952.50 988.50M-8.50 -10.00 L990.00 988.50M29.00 -10.00 L1027.50 988.50" stroke="#000" stroke-width="3.5" fill="none"/>
</svg>
<path d="M1802.5 376.1 V474.9" stroke="#0000FF" stroke-width="4.5" fill="none"/>
<path d="M1789.1 376.1 H1815.9 M1789.1 474.9 H1815.9" stroke="#0000FF" stroke-width="4.6" stroke-linecap="round" fill="none"/>
<path d="M1828 1409.0 V437.5 Q1828 436 1829.5 436 H1886.5 Q1888 436 1888 437.5 V1409.0 Z" fill="#0080C4"/>
<svg x="1832.5" y="440.5" width="51.0" height="965.5" viewBox="0 0 51.0 965.5">
<path d="M6.30 -10.00 L-979.20 975.50M43.80 -10.00 L-941.70 975.50M81.30 -10.00 L-904.20 975.50M118.80 -10.00 L-866.70 975.50M156.30 -10.00 L-829.20 975.50M193.80 -10.00 L-791.70 975.50M231.30 -10.00 L-754.20 975.50M268.80 -10.00 L-716.70 975.50M306.30 -10.00 L-679.20 975.50M343.80 -10.00 L-641.70 975.50M381.30 -10.00 L-604.20 975.50M418.80 -10.00 L-566.70 975.50M456.30 -10.00 L-529.20 975.50M493.80 -10.00 L-491.70 975.50M531.30 -10.00 L-454.20 975.50M568.80 -10.00 L-416.70 975.50M606.30 -10.00 L-379.20 975.50M643.80 -10.00 L-341.70 975.50M681.30 -10.00 L-304.20 975.50M718.80 -10.00 L-266.70 975.50M756.30 -10.00 L-229.20 975.50M793.80 -10.00 L-191.70 975.50M831.30 -10.00 L-154.20 975.50M868.80 -10.00 L-116.70 975.50M906.30 -10.00 L-79.20 975.50M943.80 -10.00 L-41.70 975.50M981.30 -10.00 L-4.20 975.50M1018.80 -10.00 L33.30 975.50M-983.50 -10.00 L2.00 975.50M-946.00 -10.00 L39.50 975.50M-908.50 -10.00 L77.00 975.50M-871.00 -10.00 L114.50 975.50M-833.50 -10.00 L152.00 975.50M-796.00 -10.00 L189.50 975.50M-758.50 -10.00 L227.00 975.50M-721.00 -10.00 L264.50 975.50M-683.50 -10.00 L302.00 975.50M-646.00 -10.00 L339.50 975.50M-608.50 -10.00 L377.00 975.50M-571.00 -10.00 L414.50 975.50M-533.50 -10.00 L452.00 975.50M-496.00 -10.00 L489.50 975.50M-458.50 -10.00 L527.00 975.50M-421.00 -10.00 L564.50 975.50M-383.50 -10.00 L602.00 975.50M-346.00 -10.00 L639.50 975.50M-308.50 -10.00 L677.00 975.50M-271.00 -10.00 L714.50 975.50M-233.50 -10.00 L752.00 975.50M-196.00 -10.00 L789.50 975.50M-158.50 -10.00 L827.00 975.50M-121.00 -10.00 L864.50 975.50M-83.50 -10.00 L902.00 975.50M-46.00 -10.00 L939.50 975.50M-8.50 -10.00 L977.00 975.50M29.00 -10.00 L1014.50 975.50" stroke="#000" stroke-width="3.5" fill="none"/>
</svg>
<path d="M1858.0 390.1 V486.9" stroke="#0080C4" stroke-width="4.5" fill="none"/>
<path d="M1844.6 390.1 H1871.4 M1844.6 486.9 H1871.4" stroke="#0080C4" stroke-width="4.6" stroke-linecap="round" fill="none"/>
<rect x="737.5" y="69.5" width="429.0" height="294.0" fill="#fff" stroke="#000" stroke-width="3"/>
<rect x="747" y="78" width="174" height="88" rx="1.5" fill="#003F80"/>
<svg x="752" y="82" width="165" height="79" viewBox="0 0 165 79">
<path d="M6.80 -10.00 L-92.20 89.00M44.30 -10.00 L-54.70 89.00M81.80 -10.00 L-17.20 89.00M119.30 -10.00 L20.30 89.00M156.80 -10.00 L57.80 89.00M194.30 -10.00 L95.30 89.00M231.80 -10.00 L132.80 89.00" stroke="#000" stroke-width="3.0" fill="none"/>
</svg>
<text transform="translate(938.2 147.7) scale(0.994 1.02)">10 rpm</text>
<rect x="747" y="173" width="174" height="88" rx="1.5" fill="#0000FF"/>
<svg x="752" y="177" width="165" height="80" viewBox="0 0 165 80">
<path d="M-85.80 -10.00 L14.20 90.00M-48.30 -10.00 L51.70 90.00M-10.80 -10.00 L89.20 90.00M26.70 -10.00 L126.70 90.00M64.20 -10.00 L164.20 90.00M101.70 -10.00 L201.70 90.00M139.20 -10.00 L239.20 90.00" stroke="#000" stroke-width="3.0" fill="none"/>
</svg>
<text transform="translate(938.2 242.4) scale(0.994 1.02)">20 rpm</text>
<rect x="747" y="268" width="174" height="87" rx="1.5" fill="#0080C4"/>
<svg x="752" y="272" width="165" height="79" viewBox="0 0 165 79">
<path d="M6.20 -10.00 L-92.80 89.00M43.70 -10.00 L-55.30 89.00M81.20 -10.00 L-17.80 89.00M118.70 -10.00 L19.70 89.00M156.20 -10.00 L57.20 89.00M193.70 -10.00 L94.70 89.00M231.20 -10.00 L132.20 89.00M-85.20 -10.00 L13.80 89.00M-47.70 -10.00 L51.30 89.00M-10.20 -10.00 L88.80 89.00M27.30 -10.00 L126.30 89.00M64.80 -10.00 L163.80 89.00M102.30 -10.00 L201.30 89.00M139.80 -10.00 L238.80 89.00" stroke="#000" stroke-width="3.0" fill="none"/>
</svg>
<text transform="translate(938.2 337.0) scale(0.994 1.02)">50 rpm</text>
<text transform="translate(202.6 1431.8) scale(1 1.025)" text-anchor="end">0.0</text>
<text transform="translate(202.6 1161.8) scale(1 1.025)" text-anchor="end">0.5</text>
<text transform="translate(202.6 891.8) scale(1 1.025)" text-anchor="end">1.0</text>
<text transform="translate(202.6 621.8) scale(1 1.025)" text-anchor="end">1.5</text>
<text transform="translate(202.6 351.8) scale(1 1.025)" text-anchor="end">2.0</text>
<text transform="translate(202.6 81.8) scale(1 1.025)" text-anchor="end">2.5</text>
<text x="366.2" y="1511.6" text-anchor="middle">Control</text>
<text x="605.2" y="1511.6" text-anchor="middle">LO40</text>
<text x="844.2" y="1511.6" text-anchor="middle">LO43</text>
<text x="1084.2" y="1511.6" text-anchor="middle">LO45</text>
<text x="1323.2" y="1511.6" text-anchor="middle">LO60</text>
<text x="1562.2" y="1511.6" text-anchor="middle">LO63</text>
<text x="1802.2" y="1511.6" text-anchor="middle">LO65</text>
<text x="1064.6" y="1615.8" text-anchor="middle">Asphalt type</text>
<text transform="translate(77 1132.6) rotate(-90)">Viscosity at 110 °C (Pa·s)</text>
</svg></body></html>
